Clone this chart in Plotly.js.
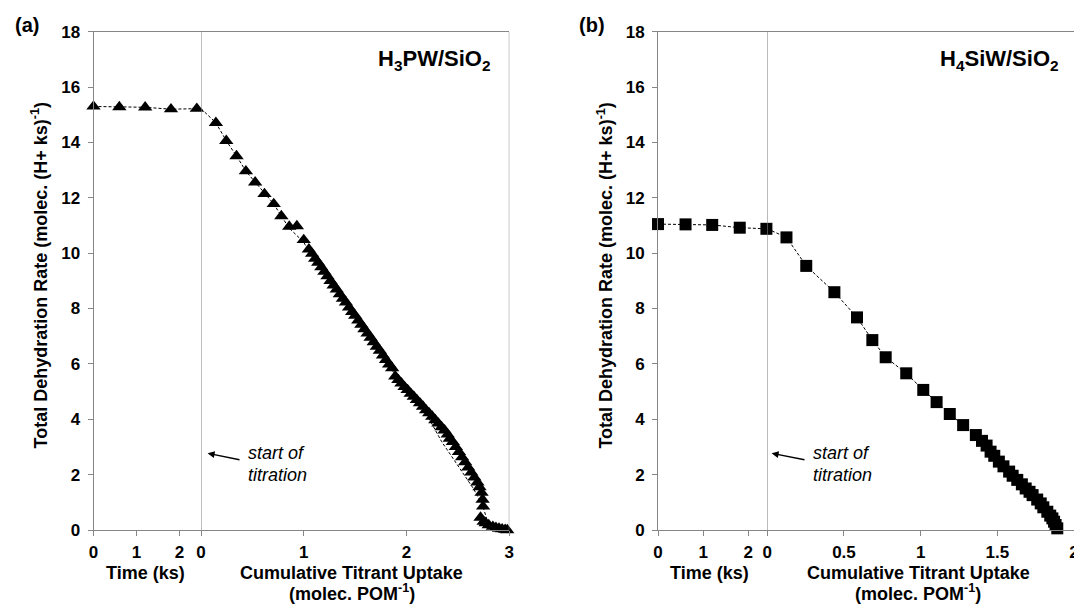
<!DOCTYPE html>
<html>
<head>
<meta charset="utf-8">
<script src="https://cdn.plot.ly/plotly-3.0.1.min.js"></script>
<style>html,body{margin:0;padding:0;background:#fff}#chart{width:1074px;height:604px}</style>
</head>
<body>
<div id="chart"></div>
<script>
// ---------- data ----------
const yTickVals = [0, 2, 4, 6, 8, 10, 12, 14, 16, 18];
const timeTickVals = [0, 1, 2];
const uptakeTickValsA = [0, 1, 2, 3];
const uptakeTickValsB = [0, 0.5, 1, 1.5, 2];
const uptakeTickTextB = ['0', '0.5', '1', '1.5', '2'];

// Panel (a) H3PW/SiO2
const timeA = [0, 0.6, 1.2, 1.8, 2.4];
const rateTimeA = [15.30, 15.28, 15.27, 15.20, 15.22];
const uptakeA = [0.144, 0.245, 0.345, 0.436, 0.526, 0.617, 0.707, 0.781, 0.858, 0.932,
  0.999, 1.049, 1.08, 1.11, 1.14, 1.17, 1.20, 1.23, 1.26, 1.29, 1.32, 1.35, 1.38, 1.41,
  1.44, 1.47, 1.50, 1.53, 1.56, 1.59, 1.62, 1.65, 1.68, 1.71, 1.74, 1.77, 1.80, 1.83,
  1.86, 1.89, 1.92, 1.95, 1.98, 2.01, 2.04, 2.07, 2.10, 2.13, 2.16, 2.19, 2.22, 2.25,
  2.28, 2.31, 2.34, 2.37, 2.40, 2.42, 2.45, 2.48, 2.51, 2.54, 2.57, 2.60, 2.63, 2.66,
  2.69, 2.71, 2.73, 2.74, 2.745, 2.72, 2.75, 2.77, 2.80, 2.84, 2.87, 2.90, 2.93, 2.96, 2.98];
const rateUptakeA = [14.71, 14.06, 13.51, 12.96, 12.56, 12.14, 11.78, 11.34, 10.96, 10.98,
  10.48, 10.14, 9.98, 9.80, 9.66, 9.50, 9.33, 9.17, 9.00, 8.84, 8.69, 8.52, 8.36, 8.22,
  8.04, 7.88, 7.74, 7.57, 7.42, 7.26, 7.10, 6.95, 6.79, 6.62, 6.48, 6.31, 6.15, 5.98,
  5.85, 5.55, 5.42, 5.30, 5.17, 5.06, 4.93, 4.82, 4.70, 4.58, 4.46, 4.33, 4.22, 4.10,
  3.97, 3.85, 3.72, 3.60, 3.45, 3.30, 3.18, 3.00, 2.82, 2.63, 2.45, 2.26, 2.08, 1.90,
  1.72, 1.55, 1.35, 1.10, 0.85, 0.45, 0.30, 0.25, 0.18, 0.12, 0.08, 0.05, 0.03, 0.01, 0.00];
// dashed guide line of panel (a)
const lineUptakeA = [0.144, 0.245, 0.345, 0.436, 0.526, 0.617, 0.707, 0.781, 0.858, 0.999,
  1.049, 1.30, 1.55, 1.80, 2.00, 2.20, 2.34, 2.50, 2.65, 2.74, 2.78, 2.85, 2.98];
const lineRateA = [14.71, 14.06, 13.51, 12.96, 12.56, 12.14, 11.78, 11.34, 10.90, 10.40,
  10.05, 8.75, 7.45, 6.05, 5.10, 4.15, 3.20, 2.30, 1.50, 0.90, 0.40, 0.15, 0.00];

// Panel (b) H4SiW/SiO2
const timeB = [0, 0.61, 1.2, 1.81, 2.4];
const rateTimeB = [11.05, 11.04, 11.02, 10.92, 10.88];
const uptakeB = [0.125, 0.254, 0.4375, 0.585, 0.685, 0.772, 0.906, 1.017, 1.104, 1.19,
  1.277, 1.36, 1.40, 1.43, 1.456, 1.48, 1.51, 1.54, 1.577, 1.60, 1.63, 1.66, 1.685,
  1.71, 1.73, 1.76, 1.783, 1.80, 1.826, 1.845, 1.859, 1.87, 1.88, 1.891];
const rateUptakeB = [10.57, 9.54, 8.59, 7.68, 6.86, 6.24, 5.66, 5.06, 4.62, 4.19,
  3.79, 3.43, 3.22, 3.05, 2.83, 2.68, 2.47, 2.30, 2.11, 1.96, 1.81, 1.65, 1.50,
  1.38, 1.26, 1.10, 0.96, 0.82, 0.66, 0.52, 0.42, 0.30, 0.18, 0.06];

const timeRangeA = [0, 2.5];
const timeRangeB = [0, 2.42];

// ---------- helpers ----------
const W = 1074, H = 604;
const px = v => v / W;
const py = v => 1 - v / H;
const FONT = 'Liberation Sans, Arial, sans-serif';
const AX = '#868686';
const dash = '3px,2px';

const lineA = {color: '#000', width: 1, dash: dash};
const triMarker = {symbol: 'triangle-up', size: 12.5, color: '#000'};
const sqMarker = {symbol: 'square', size: 12, color: '#000'};

const traces = [
  // (a) time segment
  {x: timeA, y: rateTimeA, xaxis: 'x', yaxis: 'y', mode: 'lines+markers',
   line: lineA, marker: triMarker, cliponaxis: false},
  {x: [timeA[timeA.length - 1], timeRangeA[1]],
   y: [rateTimeA[rateTimeA.length - 1], rateTimeA[rateTimeA.length - 1]],
   xaxis: 'x', yaxis: 'y', mode: 'lines', line: lineA, cliponaxis: false},
  // (a) uptake segment
  {x: [0].concat(lineUptakeA), y: [rateTimeA[rateTimeA.length - 1]].concat(lineRateA),
   xaxis: 'x2', yaxis: 'y', mode: 'lines', line: lineA, cliponaxis: false},
  {x: uptakeA, y: rateUptakeA, xaxis: 'x2', yaxis: 'y', mode: 'markers',
   marker: triMarker, cliponaxis: false},
  // (b) time segment
  {x: timeB, y: rateTimeB, xaxis: 'x3', yaxis: 'y2', mode: 'lines+markers',
   line: lineA, marker: sqMarker, cliponaxis: false},
  // (b) uptake segment
  {x: [0].concat(uptakeB), y: [rateTimeB[rateTimeB.length - 1]].concat(rateUptakeB),
   xaxis: 'x4', yaxis: 'y2', mode: 'lines', line: lineA, cliponaxis: false},
  {x: uptakeB, y: rateUptakeB, xaxis: 'x4', yaxis: 'y2', mode: 'markers',
   marker: sqMarker, cliponaxis: false}
];

const tickFont = {family: FONT, size: 17, color: '#000', weight: 'bold'};
const baseX = {
  showline: true, linecolor: AX, linewidth: 1, mirror: true,
  ticks: 'outside', ticklen: 5, tickcolor: AX, tickwidth: 1,
  showgrid: false, zeroline: false, tickfont: tickFont, fixedrange: true,
  ticklabelstandoff: 2
};
const baseY = {
  range: [0, 18], tickvals: yTickVals, domain: [py(530), py(31.7)],
  showline: true, linecolor: AX, linewidth: 1,
  ticks: 'outside', ticklen: 5, tickcolor: AX, tickwidth: 1,
  showgrid: false, zeroline: false, tickfont: tickFont, fixedrange: true,
  ticklabelstandoff: 4
};

const layout = {
  width: W, height: H,
  margin: {l: 0, r: 0, t: 0, b: 0},
  paper_bgcolor: '#fff', plot_bgcolor: 'rgba(0,0,0,0)',
  showlegend: false,
  xaxis: Object.assign({}, baseX, {domain: [px(93.5), px(201.1)], range: timeRangeA,
    tickvals: timeTickVals, anchor: 'y'}),
  xaxis2: Object.assign({}, baseX, {domain: [px(201.1), px(509.3)], range: [0, 3],
    tickvals: uptakeTickValsA, anchor: 'y'}),
  yaxis: Object.assign({}, baseY, {anchor: 'x'}),
  xaxis3: Object.assign({}, baseX, {domain: [px(658), px(767.3)], range: timeRangeB,
    tickvals: timeTickVals, anchor: 'y2'}),
  xaxis4: Object.assign({}, baseX, {domain: [px(767.3), 1], range: [0, 2],
    tickvals: uptakeTickValsB, ticktext: uptakeTickTextB, anchor: 'y2',
    ticklabeloverflow: 'allow'}),
  yaxis2: Object.assign({}, baseY, {anchor: 'x3'}),
  shapes: [
    {type: 'line', xref: 'x2', yref: 'y', x0: 0, x1: 0, y0: 0, y1: 18,
     line: {color: AX, width: 1}},
    {type: 'line', xref: 'x2', yref: 'y', x0: 3, x1: 3, y0: 0, y1: 18,
     line: {color: AX, width: 1}},
    {type: 'line', xref: 'x4', yref: 'y2', x0: 0, x1: 0, y0: 0, y1: 18,
     line: {color: AX, width: 1}}
  ],
  annotations: []
};

const ann = layout.annotations;
function txt(text, x, y, opts) {
  ann.push(Object.assign({
    text: text, x: px(x), y: py(y), xref: 'paper', yref: 'paper',
    showarrow: false, xanchor: 'center', yanchor: 'middle', borderpad: 0,
    font: {family: FONT, size: 18, color: '#000', weight: 'bold'}
  }, opts || {}));
}
const boldF = s => ({family: FONT, size: s, color: '#000', weight: 'bold'});
const italF = s => ({family: FONT, size: s, color: '#000', style: 'italic'});

// panel labels
txt('(a)', 27, 25, {font: boldF(20)});
txt('(b)', 592, 25, {font: boldF(20)});
// catalyst labels
txt('H<sub>3</sub>PW/SiO<sub>2</sub>', 434.4, 60, {font: boldF(22)});
txt('H<sub>4</sub>SiW/SiO<sub>2</sub>', 999, 60, {font: boldF(22)});
// y titles
const yTitle = 'Total Dehydration Rate (molec. (H+ ks)<sup>-1</sup>)';
txt(yTitle, 39.5, 276, {textangle: -90, font: boldF(18)});
txt(yTitle, 604.6, 276, {textangle: -90, font: boldF(18)});
// x titles
txt('Time (ks)', 145.5, 573, {font: boldF(18)});
txt('Cumulative Titrant Uptake', 351.6, 573, {font: boldF(18)});
txt('(molec. POM<sup>-1</sup>)', 352, 592, {font: boldF(18)});
txt('Time (ks)', 709.6, 573, {font: boldF(18)});
txt('Cumulative Titrant Uptake', 918, 573, {font: boldF(18)});
txt('(molec. POM<sup>-1</sup>)', 918, 592, {font: boldF(18)});
// start of titration
txt('start of', 247.2, 452.7, {xanchor: 'left', font: italF(18)});
txt('titration', 247.2, 474.5, {xanchor: 'left', font: italF(18)});
txt('start of', 812.2, 452.7, {xanchor: 'left', font: italF(18)});
txt('titration', 812.2, 474.5, {xanchor: 'left', font: italF(18)});
// arrows
function arrow(hx, hy, tx, ty) {
  ann.push({text: '', x: px(hx), y: py(hy), xref: 'paper', yref: 'paper',
    showarrow: true, ax: tx - hx, ay: ty - hy, axref: 'pixel', ayref: 'pixel',
    arrowhead: 2, arrowsize: 1, arrowwidth: 1.4, arrowcolor: '#000', standoff: 0});
}
arrow(207.6, 453.3, 241, 460);
arrow(771.6, 453.3, 806, 460);

Plotly.newPlot('chart', traces, layout, {displayModeBar: false, staticPlot: true});
</script>
</body>
</html>
